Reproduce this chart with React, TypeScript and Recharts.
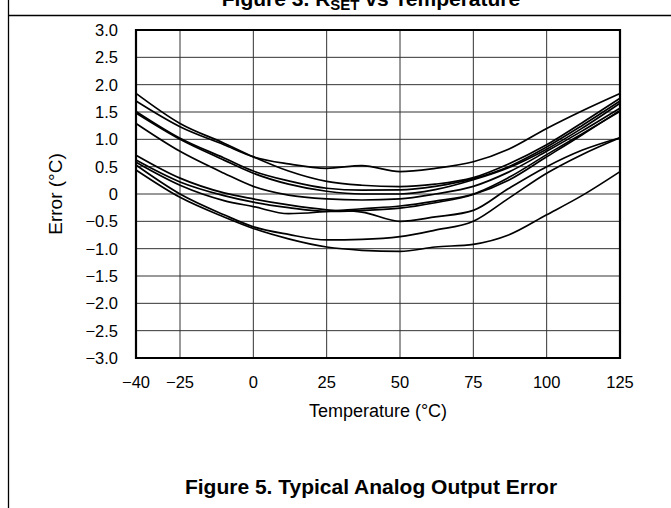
import { CartesianGrid, Line, LineChart, ReferenceArea, XAxis, YAxis } from "recharts";

const FONT = '"Liberation Sans", Arial, Helvetica, sans-serif';

// temperature samples (°C) shared by every curve
const TEMPS = [-40, -25, -10, 0, 12, 25, 37, 50, 62, 75, 87, 100, 112, 125];

// error (°C) of each tested unit
const UNIT_1 = [1.7, 1.23, 0.9, 0.68, 0.55, 0.47, 0.52, 0.41, 0.47, 0.59, 0.82, 1.2, 1.52, 1.84];
const UNIT_2 = [1.84, 1.29, 0.93, 0.68, 0.42, 0.23, 0.16, 0.135, 0.18, 0.3, 0.55, 0.9, 1.3, 1.75];
const UNIT_3 = [1.51, 1.02, 0.66, 0.42, 0.24, 0.105, 0.07, 0.075, 0.14, 0.28, 0.5, 0.86, 1.25, 1.7];
const UNIT_4 = [1.48, 1.0, 0.62, 0.38, 0.18, 0.05, 0.0, 0.0, 0.08, 0.26, 0.48, 0.82, 1.2, 1.66];
const UNIT_5 = [1.29, 0.78, 0.38, 0.14, -0.02, -0.09, -0.11, -0.09, 0.0, 0.14, 0.4, 0.78, 1.15, 1.57];
const UNIT_6 = [0.71, 0.29, 0.02, -0.09, -0.2, -0.29, -0.33, -0.5, -0.42, -0.3, 0.1, 0.5, 0.8, 1.03];
const UNIT_7 = [0.62, 0.22, -0.03, -0.15, -0.25, -0.32, -0.3, -0.26, -0.16, -0.01, 0.25, 0.68, 1.08, 1.53];
const UNIT_8 = [0.58, 0.16, -0.12, -0.23, -0.36, -0.32, -0.27, -0.22, -0.13, 0.0, 0.3, 0.72, 1.1, 1.51];
const UNIT_9 = [0.53, 0.0, -0.38, -0.6, -0.74, -0.84, -0.83, -0.78, -0.66, -0.5, -0.08, 0.38, 0.72, 1.03];
const UNIT_10 = [0.44, -0.06, -0.42, -0.63, -0.82, -0.97, -1.03, -1.05, -0.97, -0.92, -0.75, -0.38, -0.03, 0.41];

const UNITS = [UNIT_1, UNIT_2, UNIT_3, UNIT_4, UNIT_5, UNIT_6, UNIT_7, UNIT_8, UNIT_9, UNIT_10];

const X_TICKS = [-40, -25, 0, 25, 50, 75, 100, 125];
const Y_TICKS = [3, 2.5, 2, 1.5, 1, 0.5, 0, -0.5, -1, -1.5, -2, -2.5, -3];

const rows = TEMPS.map((t, i) => {
  const row: Record<string, number> = { t };
  UNITS.forEach((u, k) => {
    row[`u${k}`] = u[i];
  });
  return row;
});

const minus = (s: string) => s.replace("-", "\u2212");
const fmtX = (v: number) => minus(String(v));
const fmtY = (v: number) => (v === 0 ? "0" : minus(v.toFixed(1)));

const tickStyle = { fontSize: 16.5, fill: "#000", fontFamily: FONT };

export default function App() {
  return (
    <div style={{ position: "absolute", left: 0, top: 0, width: 671, height: 508, background: "#fff" }}>
      <LineChart width={671} height={508} data={rows} margin={{ top: 30, right: 51, bottom: 0, left: 0 }}>
        <CartesianGrid stroke="#333" strokeWidth={1} />
        <XAxis
          dataKey="t"
          type="number"
          domain={[-40, 125]}
          ticks={X_TICKS}
          interval={0}
          height={150}
          axisLine={false}
          tickLine={false}
          tickSize={0}
          tickMargin={18}
          tick={tickStyle}
          tickFormatter={fmtX}
          label={(p: any) => {
            const vb = p.viewBox;
            return (
              <text x={vb.x + vb.width / 2} y={vb.y + 59} textAnchor="middle" fontSize={18} fontFamily={FONT} fill="#000">
                Temperature (°C)
              </text>
            );
          }}
        />
        <YAxis
          type="number"
          domain={[-3, 3]}
          ticks={Y_TICKS}
          interval={0}
          width={136}
          axisLine={false}
          tickLine={false}
          tickSize={0}
          tickMargin={18}
          tick={tickStyle}
          tickFormatter={fmtY}
          label={(p: any) => {
            const vb = p.viewBox;
            const cy = vb.y + vb.height / 2;
            return (
              <text
                x={55}
                y={cy}
                transform={`rotate(-90 55 ${cy})`}
                textAnchor="middle"
                dominantBaseline="central"
                fontSize={19}
                fontFamily={FONT}
                fill="#000"
              >
                Error (°C)
              </text>
            );
          }}
        />
        <ReferenceArea x1={-40} x2={125} y1={-3} y2={3} fill="none" fillOpacity={0} stroke="#000" strokeWidth={2.2} ifOverflow="visible" />
        {UNITS.map((_, k) => (
          <Line
            key={k}
            dataKey={`u${k}`}
            type="monotone"
            stroke="#000"
            strokeWidth={1.7}
            dot={false}
            activeDot={false}
            isAnimationActive={false}
          />
        ))}
      </LineChart>
      <svg width={671} height={508} style={{ position: "absolute", left: 0, top: 0, pointerEvents: "none" }}>
        <line x1={8.5} y1={0} x2={8.5} y2={508} stroke="#000" strokeWidth={1.3} />
        <line x1={8} y1={15.5} x2={671} y2={15.5} stroke="#000" strokeWidth={1.3} />
        <text x={371} y={6} textAnchor="middle" fontSize={21} fontWeight="bold" fontFamily={FONT} fill="#000">
          Figure 3. R
          <tspan fontSize={15} dy={4}>
            SET
          </tspan>
          <tspan dy={-4}> vs Temperature</tspan>
        </text>
        <text x={371} y={494} textAnchor="middle" fontSize={21} fontWeight="bold" fontFamily={FONT} fill="#000">
          Figure 5. Typical Analog Output Error
        </text>
      </svg>
    </div>
  );
}
